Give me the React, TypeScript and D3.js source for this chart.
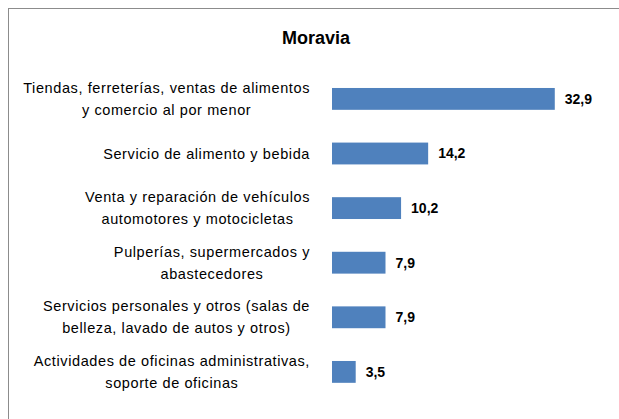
import React, { useEffect, useRef } from 'react'
import * as d3 from 'd3'

// datos del gráfico
const categorias = [
  ['Tiendas, ferreterías, ventas de alimentos', 'y comercio al por menor'],
  ['Servicio de alimento y bebida'],
  ['Venta y reparación de vehículos', 'automotores y motocicletas'],
  ['Pulperías, supermercados y', 'abastecedores'],
  ['Servicios personales y otros (salas de', 'belleza, lavado de autos y otros)'],
  ['Actividades de oficinas administrativas,', 'soporte de oficinas'],
]
const valores = [32.9, 14.2, 10.2, 7.9, 7.9, 3.5]
const titulo = 'Moravia'

const W = 619
const H = 419
const FONT = '"Liberation Sans", Arial, sans-serif'

function App() {
  const ref = useRef<SVGSVGElement>(null)

  useEffect(() => {
    const svg = d3.select(ref.current)
    svg.selectAll('*').remove()

    const ids = categorias.map((_, i) => String(i))
    const x = d3.scaleLinear().domain([0, 35]).range([332, 569])
    const y = d3.scaleBand().domain(ids).range([71.6, 399.2]).paddingInner(0.6).paddingOuter(0.3)

    // marco
    svg.append('rect')
      .attr('x', 8.5).attr('y', 8.5)
      .attr('width', 700).attr('height', 500)
      .attr('fill', 'white')
      .attr('stroke', '#8c8c8c')

    svg.append('text')
      .attr('x', 316).attr('y', 44)
      .attr('text-anchor', 'middle')
      .attr('font-family', FONT)
      .attr('font-size', 18)
      .attr('font-weight', 'bold')
      .text(titulo)

    const g = svg.append('g')

    g.selectAll('rect.bar')
      .data(valores)
      .join('rect')
      .attr('class', 'bar')
      .attr('x', x(0))
      .attr('y', (_, i) => y(ids[i])!)
      .attr('width', d => x(d) - x(0))
      .attr('height', y.bandwidth())
      .attr('fill', '#4f81bd')

    g.selectAll('text.valor')
      .data(valores)
      .join('text')
      .attr('class', 'valor')
      .attr('x', d => x(d) + 10)
      .attr('y', (_, i) => y(ids[i])! + y.bandwidth() / 2)
      .attr('dy', '0.35em')
      .attr('font-family', FONT)
      .attr('font-size', 14)
      .attr('font-weight', 'bold')
      .text(d => d.toFixed(1).replace('.', ','))

    // etiquetas: bloque alineado a la derecha, lineas centradas
    categorias.forEach((lineas, i) => {
      const cy = y(ids[i])! + y.bandwidth() / 2
      const lh = 22
      const t = g.append('text')
        .attr('font-family', FONT)
        .attr('font-size', 14.5)
        .attr('letter-spacing', 0.6)
        .attr('text-anchor', 'middle')
      const spans = lineas.map((l, j) =>
        t.append('tspan')
          .attr('y', cy + (j - (lineas.length - 1) / 2) * lh)
          .attr('dy', '0.35em')
          .text(l)
      )
      const maxW = d3.max(spans, s => (s.node() as SVGTSpanElement).getComputedTextLength()) || 0
      spans.forEach(s => s.attr('x', 310 - maxW / 2))
    })
  }, [])

  return (
    <div style={{ position: 'absolute', left: 0, top: 0 }}>
      <svg ref={ref} width={W} height={H} style={{ display: 'block' }} />
    </div>
  )
}

export default App
